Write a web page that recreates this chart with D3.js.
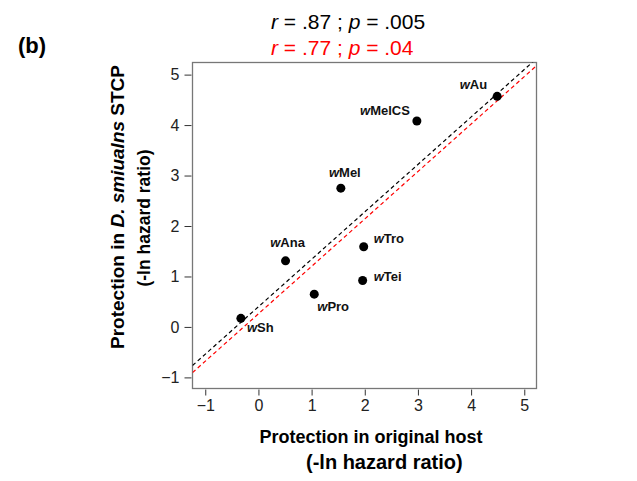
<!DOCTYPE html>
<html>
<head>
<meta charset="utf-8">
<script src="https://cdn.jsdelivr.net/npm/d3@7"></script>
<style>
  body { margin: 0; background: #fff; }
  text { font-family: 'Liberation Sans', Arial, sans-serif; }
</style>
</head>
<body>
<svg id="chart" width="637" height="481"></svg>
<script>
// ====== data ======
var strains = ['wAu', 'wMelCS', 'wMel', 'wTro', 'wAna', 'wTei', 'wPro', 'wSh']
var originalHost = [4.49, 2.98, 1.55, 1.98, 0.51, 1.96, 1.05, -0.33]
var simulansHost = [4.57, 4.08, 2.75, 1.59, 1.31, 0.92, 0.65, 0.17]
var xTicks = [-1, 0, 1, 2, 3, 4, 5]
var yTicks = [-1, 0, 1, 2, 3, 4, 5]
// fitted lines: [intercept, slope]
var fitAll = [0.40, 0.94]
var fitRed = [0.26, 0.94]

// label placement per strain (dx, dy from the dot, anchor)
var labelPos = {
  'wAu': [-10, -7, 'end'],
  'wMelCS': [-7, -6, 'end'],
  'wMel': [4, -11, 'middle'],
  'wTro': [10, -4, 'start'],
  'wAna': [2, -14, 'middle'],
  'wTei': [11, 0, 'start'],
  'wPro': [3, 17, 'start'],
  'wSh': [6, 14, 'start']
}

var svg = d3.select('#chart')
var plotL = 192.5
var plotR = 536.5
var plotT = 62.5
var plotB = 388.5

var x = d3.scaleLinear().domain([-1.24, 5.23]).range([plotL, plotR])
var y = d3.scaleLinear().domain([-1.22, 5.24]).range([plotB, plotT])

// clip for the fitted lines
svg.append('clipPath').attr('id', 'plotclip')
  .append('rect')
  .attr('x', plotL).attr('y', plotT)
  .attr('width', plotR - plotL).attr('height', plotB - plotT)

// ====== axes ======
var minusFmt = function (d) { return d < 0 ? '\u2212' + Math.abs(d) : d }
var xAxis = svg.append('g')
  .attr('transform', 'translate(0,' + (plotB + 1) + ')')
  .call(d3.axisBottom(x).tickValues(xTicks).tickSize(6).tickPadding(4).tickFormat(minusFmt))
var yAxis = svg.append('g')
  .attr('transform', 'translate(' + (plotL - 1) + ',0)')
  .call(d3.axisLeft(y).tickValues(yTicks).tickSize(7).tickPadding(5).tickFormat(minusFmt))

;[xAxis, yAxis].forEach(function (a) {
  a.select('.domain').remove()
  a.selectAll('line').attr('stroke', '#333')
  a.selectAll('text').attr('font-size', 16).attr('fill', '#222')
    .style('font-family', "'Liberation Sans', Arial, sans-serif")
})

// frame
svg.append('rect')
  .attr('x', plotL).attr('y', plotT)
  .attr('width', plotR - plotL).attr('height', plotB - plotT)
  .attr('fill', 'none')
  .attr('stroke', '#777')
  .attr('stroke-width', 1.3)

// ====== fitted lines ======
var lineG = svg.append('g').attr('clip-path', 'url(#plotclip)')
function drawFit (coef, color) {
  var xs = x.domain()
  lineG.append('line')
    .attr('x1', x(xs[0])).attr('y1', y(coef[0] + coef[1] * xs[0]))
    .attr('x2', x(xs[1])).attr('y2', y(coef[0] + coef[1] * xs[1]))
    .attr('stroke', color)
    .attr('stroke-width', 1.2)
    .attr('stroke-dasharray', '4,3')
}
drawFit(fitAll, '#000')
drawFit(fitRed, '#ff0000')

// ====== points ======
var points = strains.map(function (s, i) {
  return { name: s, x: originalHost[i], y: simulansHost[i] }
})

svg.append('g').selectAll('circle')
  .data(points)
  .enter()
  .append('circle')
  .attr('cx', function (d) { return x(d.x) })
  .attr('cy', function (d) { return y(d.y) })
  .attr('r', 4.5)
  .attr('fill', '#000')

var labels = svg.append('g').selectAll('text')
  .data(points)
  .enter()
  .append('text')
  .attr('x', function (d) { return x(d.x) + labelPos[d.name][0] })
  .attr('y', function (d) { return y(d.y) + labelPos[d.name][1] })
  .attr('text-anchor', function (d) { return labelPos[d.name][2] })
  .attr('font-size', 13)
  .attr('font-weight', 'bold')
  .attr('fill', '#111')
labels.append('tspan').attr('font-style', 'italic').text('w')
labels.append('tspan').text(function (d) { return d.name.slice(1) })

// ====== titles ======
function statLine (yPos, r, p, color) {
  var t = svg.append('text')
    .attr('x', 271).attr('y', yPos)
    .attr('font-size', 21)
    .attr('fill', color)
  t.append('tspan').attr('font-style', 'italic').text('r')
  t.append('tspan').text(' = ' + r + ' ; ')
  t.append('tspan').attr('font-style', 'italic').text('p')
  t.append('tspan').text(' = ' + p)
}
statLine(29, '.87', '.005', '#000')
statLine(55, '.77', '.04', '#ff0000')

svg.append('text')
  .attr('x', 18).attr('y', 53)
  .attr('font-size', 22)
  .attr('font-weight', 'bold')
  .text('(b)')

// x axis title
svg.append('text')
  .attr('x', 371).attr('y', 443)
  .attr('text-anchor', 'middle')
  .attr('font-size', 18).attr('font-weight', 'bold')
  .text('Protection in original host')
svg.append('text')
  .attr('x', 306).attr('y', 469)
  .attr('font-size', 20).attr('font-weight', 'bold')
  .text('(-ln hazard ratio)')

// y axis title
var yt = svg.append('text')
  .attr('transform', 'translate(124,207) rotate(-90)')
  .attr('text-anchor', 'middle')
  .attr('font-size', 19).attr('font-weight', 'bold')
yt.append('tspan').text('Protection in ')
yt.append('tspan').attr('font-style', 'italic').text('D. smiualns')
yt.append('tspan').text(' STCP')
svg.append('text')
  .attr('transform', 'translate(150,218) rotate(-90)')
  .attr('text-anchor', 'middle')
  .attr('font-size', 17.5).attr('font-weight', 'bold')
  .text('(-ln hazard ratio)')
</script>
</body>
</html>
